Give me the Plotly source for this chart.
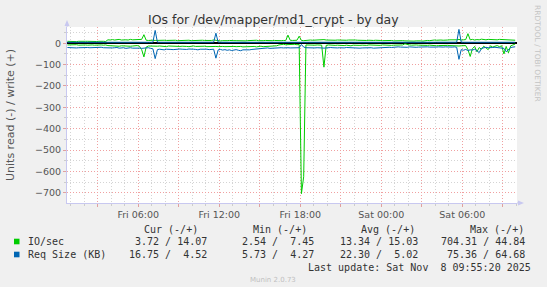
import pandas as pd
import plotly.graph_objects as go

# ---------------- data (5-min munin samples, read every 10 min) ----------------
times = pd.date_range("2025-11-07 00:45", periods=200, freq="10min")

io_write = [
    9, 8, 10, 9, 7.45, 9, 10, 8, 9, 9,
    8, 10, 9, 8, 9, 10, 9, 8, 16, 15,
    17, 15, 16, 18, 15, 17, 16, 15, 18, 16,
    17, 15, 16, 18, 40, 14, 13, 15, 14, 13,
    14, 13, 15, 14, 13, 14, 15, 13, 14, 12,
    13, 14, 15, 13, 14, 12, 13, 14, 15, 13,
    14, 13, 12, 14, 13, 15, 13, 12, 11, 12,
    11, 12, 13, 11, 12, 12, 11, 13, 12, 11,
    12, 13, 11, 12, 14, 12, 11, 12, 13, 12,
    11, 12, 13, 12, 14, 12, 13, 12, 38, 14,
    13, 12, 14, 33, 13, 12, 14, 16, 15, 14,
    15, 16, 14, 15, 17, 15, 14, 16, 15, 14,
    15, 14, 16, 15, 14, 15, 16, 14, 15, 14,
    13, 15, 14, 13, 14, 12, 13, 14, 12, 13,
    12, 13, 11, 12, 13, 11, 12, 10, 11, 12,
    11, 10, 12, 11, 10, 11, 12, 11, 10, 12,
    13, 12, 14, 15, 14, 16, 15, 14, 16, 15,
    16, 15, 17, 16, 18, 15, 16, 17, 44.84, 16,
    18, 15, 17, 16, 19, 17, 16, 18, 17, 16,
    17, 16, 18, 17, 16, 15, 17, 16, 15, 14.07,
]

io_read = [
    -8, -7, -9, -8, -7, -9, -8, -7, -8, -9,
    -7, -8, -9, -8, -7, -8, -9, -8, -11, -12,
    -13, -11, -12, -14, -12, -13, -11, -12, -14, -13,
    -12, -11, -14, -30, -64, -18, -13, -14, -12, -15,
    -14, -13, -15, -14, -16, -13, -14, -15, -13, -14,
    -15, -14, -13, -15, -16, -14, -13, -15, -14, -16,
    -15, -14, -16, -15, -14, -13, -15, -16, -14, -15,
    -16, -15, -17, -14, -15, -16, -14, -15, -17, -16,
    -15, -14, -16, -15, -17, -15, -14, -16, -15, -14,
    -13, -15, -14, -12, -8, -6, -5, -7, -6, -5,
    -6, -5, -7, -6, -704.31, -625, -8, -9, -7, -8,
    -9, -8, -10, -9, -112, -10, -8, -9, -11, -10,
    -9, -10, -8, -11, -9, -10, -12, -9, -10, -11,
    -10, -9, -11, -10, -8, -9, -10, -11, -9, -10,
    -8, -9, -7, -8, -10, -9, -8, -7, -9, -8,
    -2.54, -7, -8, -9, -7, -8, -9, -10, -8, -9,
    -10, -9, -11, -10, -12, -11, -10, -12, -11, -10,
    -11, -12, -10, -11, -13, -12, -10, -11, -30, -62,
    -25, -15, -40, -20, -28, -14, -22, -30, -12, -18,
    -14, -11, -16, -12, -50, -15, -45, -12, -8, -3.72,
]

rq_write = [
    4.5, 4.6, 4.4, 4.5, 4.7, 4.5, 4.4, 4.6, 4.5, 4.8,
    4.6, 4.5, 4.4, 4.7, 4.5, 4.6, 4.5, 4.4, 4.6, 4.5,
    4.7, 4.5, 4.6, 4.4, 4.5, 4.8, 4.6, 4.5, 4.7, 4.5,
    4.6, 4.4, 4.5, 4.7, 5.2, 4.6, 4.5, 4.4, 4.8, 60.0,
    5.0, 4.6, 4.5, 4.7, 4.5, 4.6, 4.4, 4.5, 4.7, 4.6,
    4.5, 4.6, 4.8, 4.5, 4.4, 4.6, 4.5, 4.7, 4.5, 4.6,
    4.4, 4.5, 4.7, 4.6, 4.5, 4.8, 47.0, 4.9, 4.6, 4.5,
    4.6, 4.5, 4.7, 4.4, 4.6, 4.5, 4.8, 4.6, 4.5, 4.7,
    4.5, 4.6, 4.4, 4.5, 4.7, 4.6, 4.5, 4.8, 4.6, 4.5,
    4.7, 4.5, 4.6, 4.4, 4.5, 4.6, 4.8, 4.5, 4.6, 4.5,
    4.4, 4.6, 4.5, 4.7, 4.5, 4.6, 4.4, 4.5, 4.7, 4.6,
    4.5, 4.27, 4.6, 4.5, 4.4, 4.6, 4.5, 4.7, 4.5, 4.6,
    4.5, 4.6, 4.4, 4.5, 4.7, 4.5, 4.6, 4.5, 4.4, 4.6,
    4.7, 4.5, 4.6, 4.4, 4.5, 4.6, 4.5, 4.7, 4.6, 4.5,
    4.4, 4.6, 4.5, 4.7, 4.5, 4.6, 4.4, 4.5, 4.6, 4.5,
    4.6, 4.5, 4.7, 4.5, 4.4, 4.6, 4.5, 4.6, 4.7, 4.5,
    4.5, 4.6, 4.4, 4.5, 4.7, 4.6, 4.5, 4.6, 4.4, 4.5,
    4.6, 4.5, 4.7, 4.8, 64.68, 5.1, 4.6, 4.5, 4.7, 4.6,
    4.8, 4.6, 5.0, 4.7, 4.5, 4.6, 4.8, 4.5, 4.6, 4.7,
    4.5, 4.6, 4.4, 4.7, 4.5, 4.6, 4.8, 4.5, 4.6, 4.52,
]

rq_read = [
    -20, -21, -19, -20, -22, -21, -20, -19, -21, -20,
    -21, -20, -22, -21, -20, -19, -21, -22, -20, -21,
    -22, -21, -20, -23, -22, -21, -24, -22, -21, -23,
    -22, -21, -23, -24, -22, -23, -21, -24, -26, -72,
    -30, -28, -29, -31, -28, -27, -29, -30, -28, -29,
    -27, -28, -30, -29, -27, -26, -28, -29, -31, -28,
    -27, -29, -28, -30, -29, -28, -70, -31, -29, -32,
    -30, -33, -31, -34, -32, -30, -33, -35, -31, -32,
    -30, -31, -29, -28, -26, -24, -25, -23, -24, -22,
    -24, -23, -25, -22, -23, -21, -22, -20, -21, -22,
    -21, -20, -22, -21, -5.73, -18, -21, -22, -20, -21,
    -22, -21, -20, -22, -23, -21, -22, -20, -21, -23,
    -22, -21, -23, -22, -20, -21, -22, -23, -21, -22,
    -23, -22, -21, -22, -20, -21, -23, -22, -21, -20,
    -19, -20, -18, -19, -20, -18, -19, -17, -18, -19,
    -18, -19, -17, -18, -20, -19, -18, -17, -19, -18,
    -17, -18, -19, -17, -18, -17, -19, -18, -17, -18,
    -19, -18, -17, -19, -75.36, -30, -33, -29, -34, -31,
    -32, -28, -35, -44, -24, -20, -19, -21, -22, -20,
    -19, -21, -20, -22, -24, -40, -30, -20, -18, -16.75,
]

series_names = ["IO/sec", "Req Size (KB)"]
col_heads = ["Cur (-/+)", "Min (-/+)", "Avg (-/+)", "Max (-/+)"]
io_stats = ["3.72 / 14.07", "2.54 /  7.45", "13.34 / 15.03", "704.31 / 44.84"]
rq_stats = ["16.75 /  4.52", "5.73 /  4.27", "22.30 /  5.02", "75.36 / 64.68"]
last_update = "Last update: Sat Nov  8 09:55:20 2025"
title = "IOs for /dev/mapper/md1_crypt - by day"
y_title = "Units read (-) / write (+)"

# ---------------- styling ----------------
GREEN = "#00CC00"
BLUE = "#0066B3"
W, H = 547, 287
L, R, T, B = 67, 517, 27, 203
AXC = "#c8c8f0"
SANS = "DejaVu Sans"
MONO = "DejaVu Sans Mono"


def px(x):
    return (x - L) / (R - L)


def py(y):
    return (B - y) / (B - T)


fig = go.Figure()
for vals, color in [(io_read, GREEN), (io_write, GREEN), (rq_read, BLUE), (rq_write, BLUE)]:
    fig.add_trace(go.Scatter(x=times, y=vals, mode="lines",
                             line=dict(color=color, width=1),
                             showlegend=False, hoverinfo="skip"))

tickvals = pd.date_range("2025-11-07 03:00", "2025-11-08 09:00", freq="3h")
ticktext = [t.strftime("%a %H:%M") if t.hour % 6 == 0 else "" for t in tickvals]

fig.update_layout(
    width=W, height=H,
    margin=dict(l=L, r=W - R, t=T, b=H - B, pad=0),
    paper_bgcolor="#F0F0F0", plot_bgcolor="#FFFFFF",
    showlegend=False,
    xaxis=dict(
        range=["2025-11-07 00:43:12", "2025-11-08 10:03:00"],
        tickmode="array", tickvals=tickvals, ticktext=ticktext,
        showgrid=True, gridcolor="#f0a0a0", griddash="1px,2px", gridwidth=1,
        ticks="outside", ticklen=3, tickcolor="#e0a0a0",
        tickfont=dict(family=SANS, size=9.5, color="#555"),
        showline=True, linecolor=AXC, linewidth=1,
        zeroline=False,
        minor=dict(tickmode="linear", tick0="2025-11-07 00:00", dtick=3600000,
                   showgrid=True, gridcolor="#d4d4d4", griddash="1px,2px",
                   ticks="outside", ticklen=2, tickcolor="#cccccc"),
    ),
    yaxis=dict(
        range=[-748, 76],
        tickmode="linear", tick0=0, dtick=100,
        showgrid=True, gridcolor="#f0a0a0", griddash="1px,2px", gridwidth=1,
        ticks="outside", ticklen=3, tickcolor="#e0a0a0",
        tickfont=dict(family=SANS, size=9.5, color="#555"),
        showline=True, linecolor=AXC, linewidth=1,
        zeroline=True, zerolinecolor="#000000", zerolinewidth=1.5,
        minor=dict(tickmode="linear", tick0=0, dtick=50,
                   showgrid=True, gridcolor="#d4d4d4", griddash="1px,2px",
                   ticks="outside", ticklen=2, tickcolor="#cccccc"),
    ),
)


def txt(x, y, s, size, color, family=SANS, xanchor="center", angle=0):
    fig.add_annotation(x=px(x), y=py(y), xref="paper", yref="paper",
                       text=s.replace(" ", "\u00a0"), showarrow=False,
                       xanchor=xanchor, yanchor="middle", textangle=angle,
                       font=dict(size=size, color=color, family=family))


txt(273, 20, title, 12.5, "#333333")
txt(10, 115, y_title, 11, "#555555", angle=-90)
txt(538, 53, "RRDTOOL / TOBI OETIKER", 7.5, "#c4c4c4", angle=90)
txt(273, 280, "Munin 2.0.73", 7, "#c0c0c0")

head_right = [200, 309, 417, 526]
val_right = [209, 316, 420, 527]
for xr, s in zip(head_right, col_heads):
    txt(xr, 229, s, 10, "#333333", MONO, xanchor="right")
for row_y, name, stats, color in [(241.5, series_names[0], io_stats, GREEN),
                                  (254.5, series_names[1], rq_stats, BLUE)]:
    fig.add_shape(type="rect", xref="paper", yref="paper",
                  x0=px(14), x1=px(19.5), y0=py(row_y - 2.8), y1=py(row_y + 2.8),
                  fillcolor=color, line=dict(width=0))
    txt(26, row_y, name, 10, "#333333", MONO, xanchor="left")
    for xr, s in zip(val_right, stats):
        txt(xr, row_y, s, 10, "#333333", MONO, xanchor="right")
txt(533, 267, last_update, 10, "#333333", MONO, xanchor="right")

# axis arrows (decoration)
fig.add_shape(type="line", xref="paper", yref="paper", x0=px(L), x1=px(L), y0=py(T), y1=py(22),
              line=dict(color=AXC, width=1))
fig.add_shape(type="path", xref="paper", yref="paper",
              path=f"M {px(64.5)},{py(26)} L {px(67)},{py(20)} L {px(69.5)},{py(26)} Z",
              fillcolor=AXC, line=dict(width=0))
fig.add_shape(type="line", xref="paper", yref="paper", x0=px(R), x1=px(519), y0=py(B), y1=py(B),
              line=dict(color=AXC, width=1))
fig.add_shape(type="path", xref="paper", yref="paper",
              path=f"M {px(518)},{py(200.5)} L {px(524)},{py(B)} L {px(518)},{py(205.5)} Z",
              fillcolor=AXC, line=dict(width=0))

fig.write_html("out.html")
